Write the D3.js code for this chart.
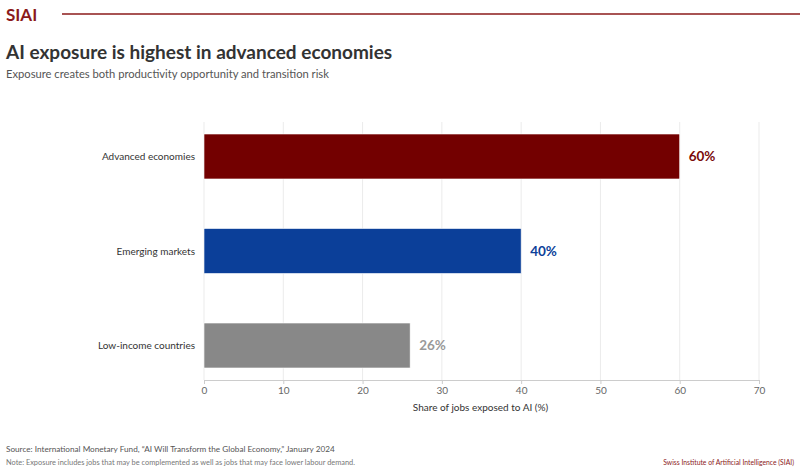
<!DOCTYPE html>
<html>
<head>
<meta charset="utf-8">
<script src="https://cdn.jsdelivr.net/npm/d3@7"></script>
<style>
  body { margin: 0; background: #fff; }
  text { font-family: Lato, "Open Sans", sans-serif; }
</style>
</head>
<body>
<svg id="chart" width="800" height="472"></svg>
<script>
// data
var categories = ["Advanced economies", "Emerging markets", "Low-income countries"]
var values = [60, 40, 26]
var barColors = ["#730000", "#0b3f99", "#888888"]
var labelColors = ["#7a0a0a", "#0b3f99", "#999999"]
var xTicks = [0, 10, 20, 30, 40, 50, 60, 70]

var svg = d3.select("#chart")
var brand = "#8b1a1a"

// header
svg.append("text")
  .attr("x", 6).attr("y", 21)
  .attr("font-size", 17).attr("font-weight", 700)
  .attr("fill", brand)
  .text("SIAI")

svg.append("line")
  .attr("x1", 62).attr("x2", 800)
  .attr("y1", 14).attr("y2", 14)
  .attr("stroke", brand).attr("stroke-width", 1.5)

svg.append("text")
  .attr("x", 6).attr("y", 59)
  .attr("font-size", 19).attr("font-weight", 700)
  .attr("fill", "#333")
  .text("AI exposure is highest in advanced economies")

svg.append("text")
  .attr("x", 6).attr("y", 78)
  .attr("font-size", 11.2)
  .attr("fill", "#555")
  .text("Exposure creates both productivity opportunity and transition risk")

// plot
var plot = { left: 204, right: 759, top: 122, bottom: 380 }

var xScale = d3.scaleLinear()
  .domain([0, 70])
  .range([plot.left, plot.right])

var yScale = d3.scaleBand()
  .domain(categories)
  .range([plot.top, plot.bottom])
  .paddingInner(0.524)
  .paddingOuter(0.127)

// gridlines
svg.append("g")
  .selectAll("line")
  .data(xTicks)
  .enter()
  .append("line")
    .attr("x1", function(d){ return xScale(d) })
    .attr("x2", function(d){ return xScale(d) })
    .attr("y1", plot.top)
    .attr("y2", plot.bottom)
    .attr("stroke", "#ebebeb")
    .attr("stroke-width", 1)

// bars
svg.append("g")
  .selectAll("rect")
  .data(values)
  .enter()
  .append("rect")
    .attr("x", xScale(0))
    .attr("y", function(d, i){ return yScale(categories[i]) })
    .attr("width", function(d){ return xScale(d) - xScale(0) })
    .attr("height", yScale.bandwidth())
    .attr("fill", function(d, i){ return barColors[i] })
    .attr("stroke", "#fff")
    .attr("stroke-width", 0.6)

// value labels
svg.append("g")
  .selectAll("text")
  .data(values)
  .enter()
  .append("text")
    .attr("x", function(d){ return xScale(d) + 9 })
    .attr("y", function(d, i){ return yScale(categories[i]) + yScale.bandwidth() / 2 })
    .attr("dy", "0.35em")
    .attr("font-size", 13.5)
    .attr("font-weight", 700)
    .attr("fill", function(d, i){ return labelColors[i] })
    .text(function(d){ return d + "%" })

// category labels
svg.append("g")
  .selectAll("text")
  .data(categories)
  .enter()
  .append("text")
    .attr("x", plot.left - 9)
    .attr("y", function(d){ return yScale(d) + yScale.bandwidth() / 2 })
    .attr("dy", "0.35em")
    .attr("text-anchor", "end")
    .attr("font-size", 10)
    .attr("fill", "#333")
    .text(function(d){ return d })

// x axis
var xAxis = d3.axisBottom(xScale).tickValues(xTicks).tickSize(4).tickPadding(3)
var axisG = svg.append("g")
  .attr("transform", "translate(0," + plot.bottom + ")")
  .call(xAxis)
axisG.select(".domain").attr("stroke", "#cccccc")
axisG.selectAll(".tick line").attr("stroke", "#cccccc")
axisG.selectAll(".tick text")
  .attr("fill", "#666")
  .attr("font-size", 10)
  .attr("font-family", "Lato, sans-serif")

svg.append("text")
  .attr("x", (plot.left + plot.right) / 2 - 1)
  .attr("y", 411)
  .attr("text-anchor", "middle")
  .attr("font-size", 10)
  .attr("fill", "#333")
  .text("Share of jobs exposed to AI (%)")

// footer
svg.append("text")
  .attr("x", 6).attr("y", 452)
  .attr("font-size", 8.2)
  .attr("fill", "#555")
  .text("Source: International Monetary Fund, \u201CAI Will Transform the Global Economy,\u201D January 2024")

svg.append("text")
  .attr("x", 6).attr("y", 465)
  .attr("font-size", 7.4)
  .attr("fill", "#777")
  .text("Note: Exposure includes jobs that may be complemented as well as jobs that may face lower labour demand.")

svg.append("text")
  .attr("x", 794).attr("y", 465)
  .attr("text-anchor", "end")
  .attr("font-size", 6.8)
  .attr("fill", brand)
  .text("Swiss Institute of Artificial Intelligence (SIAI)")
</script>
</body>
</html>
